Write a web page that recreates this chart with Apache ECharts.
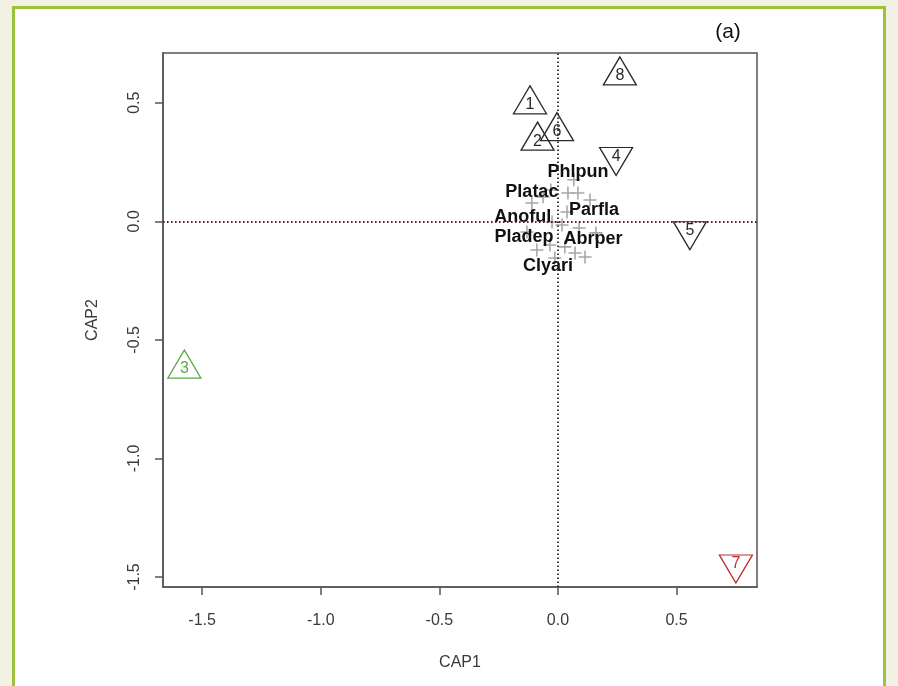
<!DOCTYPE html>
<html>
<head>
<meta charset="utf-8">
<script src="https://cdn.jsdelivr.net/npm/echarts@6/dist/echarts.min.js"></script>
<style>
  html, body { margin: 0; padding: 0; background: #f1f2e4; }
  #chart { width: 898px; height: 686px; }
</style>
</head>
<body>
<div id="chart"></div>
<script>
// Site scores on the first two constrained axes
const siteIds = ['1', '2', '3', '4', '5', '6', '7', '8'];
const siteCap1 = [-0.118, -0.086, -1.575, 0.245, 0.556, -0.004, 0.750, 0.261];
const siteCap2 = [0.512, 0.359, -0.602, 0.252, -0.061, 0.399, -1.466, 0.634];
const siteMarker = ['up', 'up', 'up', 'down', 'down', 'up', 'down', 'up'];

// Species scores (plotted as crosses)
const speciesCap1 = [-0.063, -0.030, 0.042, 0.084, 0.067, 0.038, -0.025, 0.017, 0.089, 0.160,
                     -0.034, 0.029, 0.072, 0.114, -0.013, -0.089, -0.110, -0.131, 0.135];
const speciesCap2 = [0.103, 0.132, 0.119, 0.119, 0.175, 0.039, -0.003, -0.016, -0.028, -0.049,
                     -0.100, -0.108, -0.134, -0.151, -0.155, -0.121, 0.077, -0.045, 0.090];

// Labelled species
const speciesNames = ['Phlpun', 'Platac', 'Parfla', 'Anoful', 'Pladep', 'Abrper', 'Clyari'];
const speciesNameCap1 = [0.084, -0.110, 0.152, -0.148, -0.143, 0.148, -0.042];
const speciesNameCap2 = [0.209, 0.125, 0.049, 0.016, -0.065, -0.074, -0.190];

// Axis ticks
const axisTicks = [-1.5, -1.0, -0.5, 0.0, 0.5];

const FONT = '"Liberation Sans", Arial, Helvetica, sans-serif';
const siteColour = { '3': '#5aa843', '7': '#bb3033' };
const defaultSiteColour = '#2a2a2a';

const chart = echarts.init(document.getElementById('chart'), null, { renderer: 'canvas' });

const siteData = siteIds.map((id, i) => {
  const c = siteColour[id] || defaultSiteColour;
  const up = siteMarker[i] === 'up';
  return {
    value: [siteCap1[i], siteCap2[i]],
    name: id,
    symbolRotate: up ? 0 : 180,
    itemStyle: { color: 'rgba(0,0,0,0)', borderColor: c, borderWidth: 1.3, opacity: 1 },
    label: { color: c, offset: [0, up ? 5 : -5] }
  };
});

const axisCommon = {
  type: 'value',
  axisLine: { show: true, onZero: false, lineStyle: { color: '#555', width: 1.5 } },
  axisTick: { show: true, length: 8, customValues: axisTicks, lineStyle: { color: '#555', width: 1.5 } },
  splitLine: { show: false },
  nameLocation: 'middle',
  nameTextStyle: { fontFamily: FONT, fontSize: 16, color: '#3a3a3a' }
};

chart.setOption({
  backgroundColor: '#f1f2e4',
  animation: false,
  graphic: [
    {
      type: 'rect', z: -10, silent: true,
      shape: { x: 13.5, y: 7.5, width: 871, height: 700 },
      style: { fill: '#ffffff', stroke: '#9cc23c', lineWidth: 3 }
    },
    {
      type: 'text', z: 10, silent: true,
      x: 728, y: 32,
      style: { text: '(a)', fontFamily: FONT, fontSize: 21, fill: '#111', align: 'center', verticalAlign: 'middle' }
    }
  ],
  grid: {
    left: 163, top: 53, width: 594, height: 534,
    show: true, borderColor: '#555', borderWidth: 1.5, backgroundColor: 'transparent',
    containLabel: false
  },
  xAxis: Object.assign({}, axisCommon, {
    min: -1.665, max: 0.839,
    name: 'CAP1', nameGap: 68,
    axisLabel: {
      customValues: axisTicks, margin: 26,
      formatter: v => v.toFixed(1),
      fontFamily: FONT, fontSize: 16, color: '#3a3a3a'
    }
  }),
  yAxis: Object.assign({}, axisCommon, {
    min: -1.542, max: 0.7095,
    name: 'CAP2', nameGap: 62, nameRotate: 90,
    axisLabel: {
      customValues: axisTicks, margin: 20, rotate: 90,
      formatter: v => v.toFixed(1),
      fontFamily: FONT, fontSize: 16, color: '#3a3a3a'
    }
  }),
  series: [
    {
      type: 'scatter', silent: true, z: 1,
      symbol: 'none',
      data: [],
      markLine: {
        silent: true, symbol: 'none', animation: false,
        label: { show: false },
        data: [
          { xAxis: 0, lineStyle: { color: '#2a2a2a', type: [1.6, 2.4], width: 1.8 } },
          { yAxis: 0, lineStyle: { color: '#5a2222', type: [1.6, 2.4], width: 1.8 } }
        ]
      }
    },
    {
      type: 'scatter', silent: true, z: 2,
      symbol: 'path://M4.4,0H5.6V4.4H10V5.6H5.6V10H4.4V5.6H0V4.4H4.4Z',
      symbolSize: 13,
      itemStyle: { color: '#aaa5a7', opacity: 1 },
      data: speciesCap1.map((x, i) => [x, speciesCap2[i]])
    },
    {
      type: 'scatter', silent: true, z: 4,
      symbolSize: 0,
      itemStyle: { color: '#111', opacity: 1 },
      label: {
        show: true, position: 'inside',
        formatter: p => p.name,
        fontFamily: FONT, fontSize: 18, fontWeight: 'bold', color: '#111',
        textBorderWidth: 0
      },
      data: speciesNames.map((n, i) => ({ name: n, value: [speciesNameCap1[i], speciesNameCap2[i]] }))
    },
    {
      type: 'scatter', silent: true, z: 3,
      symbol: 'triangle',
      symbolSize: [33, 28],
      itemStyle: { opacity: 1 },
      label: {
        show: true, position: 'inside',
        formatter: p => p.name,
        fontFamily: FONT, fontSize: 16,
        textBorderWidth: 0
      },
      data: siteData
    }
  ]
});
</script>
</body>
</html>
